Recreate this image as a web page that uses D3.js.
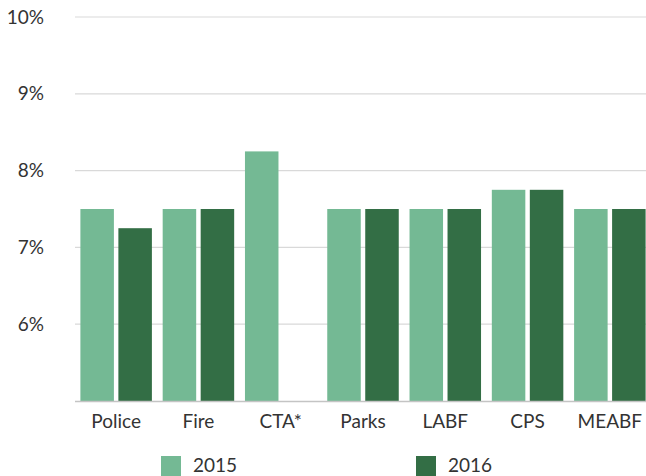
<!DOCTYPE html>
<html>
<head>
<meta charset="utf-8">
<script src="https://cdn.jsdelivr.net/npm/d3@7/dist/d3.min.js"></script>
<style>
  html, body { margin: 0; padding: 0; background: #fff; }
  svg { display: block; font-family: Lato, "Open Sans", sans-serif; }
</style>
</head>
<body>
<svg id="chart" width="646" height="476"></svg>
<script>
// Assumed rates of return by pension fund, 2015 vs 2016
const categories = ["Police", "Fire", "CTA*", "Parks", "LABF", "CPS", "MEABF"];
const seriesNames = ["2015", "2016"];
const values2015 = [7.5, 7.5, 8.25, 7.5, 7.5, 7.75, 7.5];
const values2016 = [7.25, 7.5, null, 7.5, 7.5, 7.75, 7.5];
const yTicks = [6, 7, 8, 9, 10];
const colors = ["#74b994", "#336e45"];

const svg = d3.select("#chart");
const plotLeft = 75, plotRight = 651, plotTop = 17, plotBottom = 401;

const x0 = d3.scaleBand().domain(categories).range([plotLeft, plotRight]).padding(0);
const x1 = d3.scaleBand().domain(seriesNames).range([0, x0.bandwidth()])
  .paddingInner(0.118).paddingOuter(0.142);
const y = d3.scaleLinear().domain([5, 10]).range([plotBottom, plotTop]);
const color = d3.scaleOrdinal().domain(seriesNames).range(colors);

// horizontal gridlines
svg.append("g")
  .selectAll("line")
  .data(yTicks)
  .join("line")
  .attr("x1", plotLeft).attr("x2", 646)
  .attr("y1", d => y(d)).attr("y2", d => y(d))
  .attr("stroke", "#d9d9d9").attr("stroke-width", 1.2);

// y axis labels
const yAxis = d3.axisLeft(y).tickValues(yTicks).tickFormat(d => d + "%").tickSize(0).tickPadding(0);
const yg = svg.append("g").attr("transform", "translate(44,0)").call(yAxis);
yg.select(".domain").remove();
yg.selectAll("text")
  .attr("font-family", "Lato, sans-serif")
  .attr("font-size", 19)
  .attr("fill", "#333");

// bars
const rows = categories.map((c, i) => ({ cat: c, vals: [values2015[i], values2016[i]] }));
svg.append("g")
  .selectAll("g")
  .data(rows)
  .join("g")
  .attr("transform", d => `translate(${x0(d.cat)},0)`)
  .selectAll("rect")
  .data(d => seriesNames.map((s, j) => ({ s, v: d.vals[j] })).filter(e => e.v != null))
  .join("rect")
  .attr("x", d => x1(d.s))
  .attr("width", x1.bandwidth())
  .attr("y", d => y(d.v))
  .attr("height", d => y(5) - y(d.v))
  .attr("fill", d => color(d.s));

// baseline + category labels
const xAxis = d3.axisBottom(x0).tickSize(0).tickPadding(14);
const xg = svg.append("g").attr("transform", `translate(0,${plotBottom})`).call(xAxis);
xg.select(".domain").attr("d", `M${plotLeft},0.5H646`).attr("stroke", "#c4c4c4").attr("stroke-width", 1.5);
xg.selectAll("text")
  .attr("font-family", "Lato, sans-serif")
  .attr("font-size", 19)
  .attr("fill", "#333");

// legend
const legendX = [161, 416];
const legend = svg.append("g")
  .selectAll("g")
  .data(seriesNames)
  .join("g")
  .attr("transform", (d, i) => `translate(${legendX[i]},456)`);
legend.append("rect").attr("width", 20).attr("height", 20).attr("fill", d => color(d));
legend.append("text")
  .attr("x", 32).attr("y", 16)
  .attr("font-family", "Lato, sans-serif")
  .attr("font-size", 19)
  .attr("fill", "#333")
  .text(d => d);
</script>
</body>
</html>
